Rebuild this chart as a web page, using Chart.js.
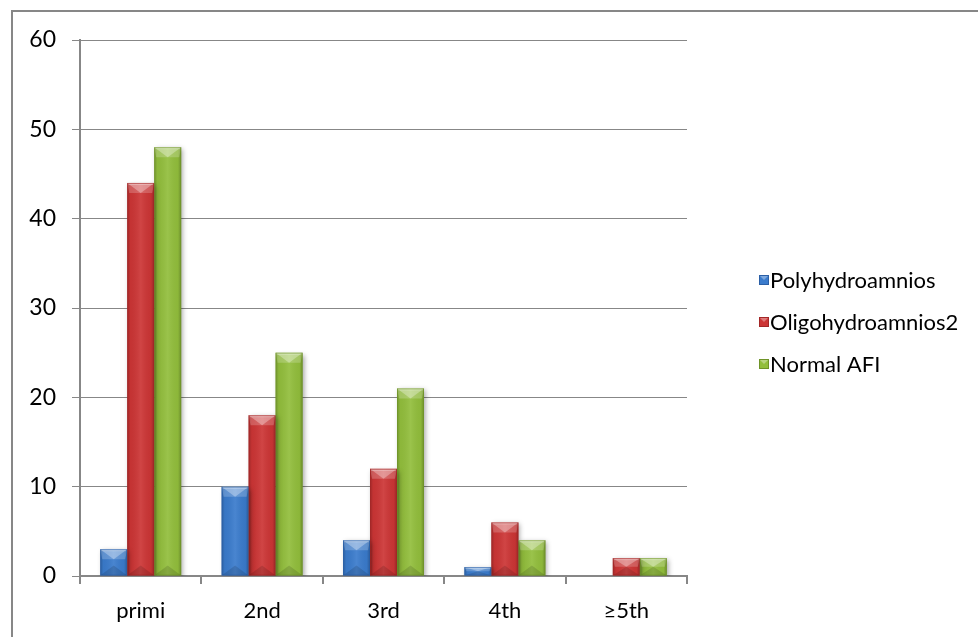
<!DOCTYPE html>
<html>
<head>
<meta charset="utf-8">
<script src="https://cdn.jsdelivr.net/npm/chart.js@4/dist/chart.umd.min.js"></script>
<style>
  html, body { margin: 0; padding: 0; background: #ffffff; }
  #wrap { width: 978px; height: 637px; }
</style>
</head>
<body>
<div id="wrap"><canvas id="c" width="978" height="637"></canvas></div>
<script>
// Parity categories and counts per amniotic fluid group
const categories = ['primi', '2nd', '3rd', '4th', '\u22655th'];
const polyhydroamnios = [3, 10, 4, 1, 0];
const oligohydroamnios = [44, 18, 12, 6, 2];
const normalAFI = [48, 25, 21, 4, 2];
const seriesNames = ['Polyhydroamnios', 'Oligohydroamnios2', 'Normal AFI'];
const yMax = 60;
const yStep = 10;

const colors = ['#3a7bcc', '#cc3535', '#92be3c'];
const edgeColors = ['#2b5fa6', '#a32727', '#6f9428'];
const FONT = 'Lato, "Open Sans", sans-serif';
const GRAY = '#878787';

// Outer frame (top and left edges)
const framePlugin = {
  id: 'frame',
  beforeDraw(chart) {
    const ctx = chart.ctx;
    ctx.save();
    ctx.fillStyle = '#ffffff';
    ctx.fillRect(0, 0, chart.width, chart.height);
    ctx.strokeStyle = GRAY;
    ctx.lineWidth = 2;
    ctx.beginPath();
    ctx.moveTo(12, chart.height + 2);
    ctx.lineTo(12, 11);
    ctx.lineTo(chart.width + 2, 11);
    ctx.stroke();
    ctx.restore();
  }
};

// Soft drop shadow under the bars
const shadowPlugin = {
  id: 'barShadow',
  beforeDatasetsDraw(chart) {
    const ctx = chart.ctx;
    ctx.save();
    ctx.shadowColor = 'rgba(0,0,0,0.35)';
    ctx.shadowBlur = 5;
    ctx.shadowOffsetX = 2;
    ctx.shadowOffsetY = 2;
  },
  afterDatasetsDraw(chart) {
    chart.ctx.restore();
  }
};

// Bevelled look on each bar: shaded sides, light top chevron, dark bottom chevron
const bevelPlugin = {
  id: 'bevel',
  afterDatasetsDraw(chart) {
    const ctx = chart.ctx;
    ctx.save();
    chart.data.datasets.forEach((ds, i) => {
      const meta = chart.getDatasetMeta(i);
      meta.data.forEach(bar => {
        const p = bar.getProps(['x', 'y', 'base', 'width'], true);
        const x0 = p.x - p.width / 2, x1 = p.x + p.width / 2;
        const top = Math.min(p.y, p.base), bot = Math.max(p.y, p.base);
        const h = bot - top;
        if (h <= 0.5) return;
        const w = x1 - x0;
        const cx = p.x;
        const d = Math.min(10, h / 2);

        const g = ctx.createLinearGradient(x0, 0, x1, 0);
        g.addColorStop(0, 'rgba(0,0,0,0.22)');
        g.addColorStop(0.12, 'rgba(0,0,0,0.04)');
        g.addColorStop(0.5, 'rgba(255,255,255,0.08)');
        g.addColorStop(0.88, 'rgba(0,0,0,0.04)');
        g.addColorStop(1, 'rgba(0,0,0,0.25)');
        ctx.fillStyle = g;
        ctx.fillRect(x0, top, w, h);

        // top facets
        ctx.fillStyle = 'rgba(255,255,255,0.2)';
        ctx.beginPath();
        ctx.moveTo(x0, top); ctx.lineTo(x1, top); ctx.lineTo(x1 - 2, top + d);
        ctx.lineTo(x0 + 2, top + d); ctx.closePath(); ctx.fill();
        ctx.fillStyle = 'rgba(255,255,255,0.3)';
        ctx.beginPath();
        ctx.moveTo(x0, top); ctx.lineTo(x1, top); ctx.lineTo(cx, top + d);
        ctx.closePath(); ctx.fill();
        ctx.fillStyle = 'rgba(255,255,255,0.3)';
        ctx.fillRect(x0 + 1, top, w - 2, Math.min(2, h));

        // bottom facet
        ctx.fillStyle = 'rgba(0,0,0,0.13)';
        ctx.beginPath();
        ctx.moveTo(x0, bot); ctx.lineTo(x1, bot); ctx.lineTo(cx, bot - d);
        ctx.closePath(); ctx.fill();

        // outline
        ctx.strokeStyle = edgeColors[i];
        ctx.globalAlpha = 0.6;
        ctx.lineWidth = 1;
        ctx.strokeRect(x0 + 0.5, top + 0.5, w - 1, h - 1);
        ctx.globalAlpha = 1;
      });
    });
    ctx.restore();
  }
};

// Legend at the right, drawn with bevelled swatches
const legendPlugin = {
  id: 'sideLegend',
  afterDraw(chart) {
    const ctx = chart.ctx;
    ctx.save();
    ctx.font = '22px ' + FONT;
    ctx.textBaseline = 'middle';
    ctx.textAlign = 'left';
    const x = 759, y0 = 280, gap = 42;
    chart.data.datasets.forEach((ds, i) => {
      const y = y0 + i * gap;
      ctx.fillStyle = colors[i];
      ctx.fillRect(x, y - 5, 10, 10);
      ctx.fillStyle = 'rgba(255,255,255,0.35)';
      ctx.beginPath();
      ctx.moveTo(x, y - 5); ctx.lineTo(x + 10, y - 5); ctx.lineTo(x + 5, y); ctx.closePath(); ctx.fill();
      ctx.strokeStyle = edgeColors[i];
      ctx.lineWidth = 1;
      ctx.strokeRect(x + 0.5, y - 4.5, 9, 9);
      ctx.fillStyle = '#000000';
      ctx.fillText(ds.label, x + 11, y + 1);
    });
    ctx.restore();
  }
};

const seriesValues = [polyhydroamnios, oligohydroamnios, normalAFI];

new Chart(document.getElementById('c'), {
  type: 'bar',
  data: {
    labels: categories,
    datasets: seriesValues.map((vals, i) => ({
      label: seriesNames[i],
      data: vals,
      backgroundColor: colors[i],
      borderWidth: 0,
      categoryPercentage: 0.667,
      barPercentage: 1.0
    }))
  },
  options: {
    responsive: false,
    animation: false,
    devicePixelRatio: 1,
    layout: { padding: { left: 0, top: 40, right: 291, bottom: 0 } },
    plugins: {
      legend: { display: false },
      tooltip: { enabled: false },
      title: { display: false }
    },
    scales: {
      x: {
        offset: true,
        afterFit(scale) { scale.height = 61; },
        grid: {
          offset: true,
          drawOnChartArea: false,
          drawTicks: true,
          tickLength: 8,
          color: GRAY,
          lineWidth: 2
        },
        border: { display: true, color: GRAY, width: 2 },
        ticks: {
          color: '#000000',
          font: { family: FONT, size: 22 },
          padding: 14
        }
      },
      y: {
        min: 0,
        max: yMax,
        afterFit(scale) { scale.width = 80; },
        grid: {
          color: GRAY,
          lineWidth: 1,
          tickLength: 8,
          drawTicks: true
        },
        border: { display: true, color: GRAY, width: 2 },
        ticks: {
          stepSize: yStep,
          color: '#000000',
          font: { family: FONT, size: 23 },
          padding: 16
        }
      }
    }
  },
  plugins: [framePlugin, shadowPlugin, bevelPlugin, legendPlugin]
});
</script>
</body>
</html>
